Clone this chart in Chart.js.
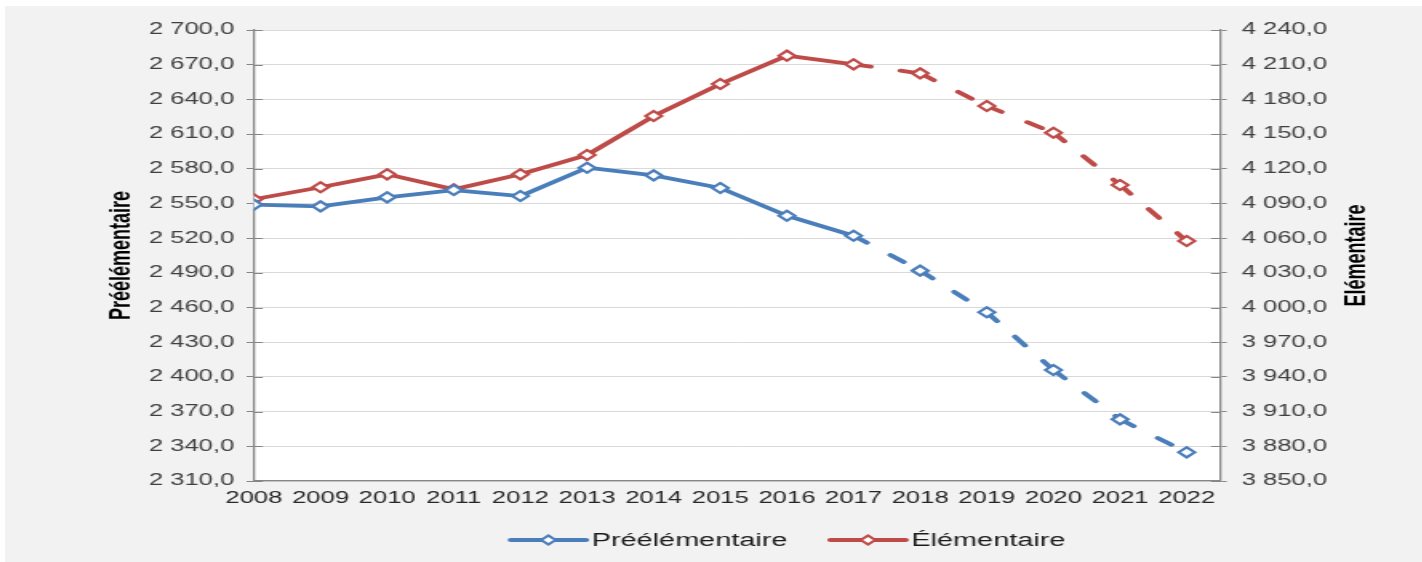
<!DOCTYPE html>
<html lang="fr">
<head>
<meta charset="utf-8">
<title>Effectifs préélémentaire et élémentaire</title>
<script src="https://cdn.jsdelivr.net/npm/chart.js@4.4.1/dist/chart.umd.min.js"></script>
<style>
  html, body { margin:0; padding:0; background:#ffffff; }
  body { width:1422px; height:562px; position:relative; overflow:hidden; }
  #panel { position:absolute; left:5px; top:6px; width:1417px; height:556px; background:#f2f2f2; overflow:hidden; }
  /* the original picture is stretched sideways, so the chart is too */
  #stretch { width:886px; height:556px; transform:scaleX(1.6); transform-origin:0 0; }
</style>
</head>
<body>
<div id="panel">
  <div id="stretch">
    <canvas id="enrolChart"></canvas>
  </div>
</div>

<script>
/* =====================================================
   DONNÉES
===================================================== */

const years = [
  2008,2009,2010,2011,2012,
  2013,2014,2015,2016,2017,
  2018,2019,2020,2021,2022
];

// Préélémentaire (axe de gauche)
const preElementary = [
  2549.0,2547.5,2555.3,2561.6,2556.4,
  2580.9,2574.3,2563.4,2539.4,2522.1,
  2491.9,2455.9,2406.0,2363.3,2334.8
];

// Élémentaire (axe de droite)
const elementary = [
  4093.6,4104.0,4115.2,4102.2,4115.2,
  4131.9,4165.6,4193.3,4217.8,4210.3,
  4202.5,4174.3,4151.2,4106.0,4057.5
];

const seriesLabels = ["Préélémentaire", "Élémentaire"];
const axisTitles = ["Préélémentaire", "Elémentaire"];

const leftTicks = { min:2310, max:2700, step:30 };
const rightTicks = { min:3850, max:4240, step:30 };

// projection (tirets) à partir de 2017
const forecastFrom = years.indexOf(2017);


/* =====================================================
   STYLE
===================================================== */

const BLUE = "#4a7ebb";
const RED = "#be4b48";
const FONT = '"Liberation Sans", Arial, sans-serif';
const TICK_COLOR = "#404040";
const AXIS_COLOR = "#868686";
const GRID_COLOR = "#d9d9d9";

function fmt(value){
  const whole = String(Math.round(value)).replace(/\B(?=(\d{3})+(?!\d))/g, " ");
  return whole + ",0";
}

const dashed = {
  borderDash: c => c.p0DataIndex >= forecastFrom ? [11, 19] : undefined,
  // offset unique par segment : le motif repart de chaque point
  borderDashOffset: c => c.p0DataIndex >= forecastFrom ? c.p0DataIndex * 0.001 : undefined
};


/* =====================================================
   PLUGINS
===================================================== */

const plotBackground = {
  id:"plotBackground",
  beforeDraw(chart){
    const a = chart.chartArea;
    const ctx = chart.ctx;
    ctx.save();
    ctx.fillStyle = "#ffffff";
    ctx.fillRect(a.left, a.top, a.right - a.left, a.bottom - a.top);
    ctx.restore();
  }
};

// petites graduations qui traversent l'axe vers l'intérieur
const innerTicks = {
  id:"innerTicks",
  beforeDatasetsDraw(chart){
    const ctx = chart.ctx;
    const a = chart.chartArea;
    ctx.save();
    ctx.strokeStyle = AXIS_COLOR;
    ctx.lineWidth = 1;
    [["y", a.left, 5.6], ["y2", a.right, -5.6]].forEach(([id, x, len]) => {
      const scale = chart.scales[id];
      scale.ticks.forEach((t, i) => {
        const y = Math.round(scale.getPixelForTick(i)) + 0.5;
        ctx.beginPath();
        ctx.moveTo(x, y);
        ctx.lineTo(x + len, y);
        ctx.stroke();
      });
    });
    ctx.restore();
  }
};

function drawDiamond(ctx, x, y, r, color){
  ctx.beginPath();
  ctx.moveTo(x - r, y);
  ctx.lineTo(x, y - r);
  ctx.lineTo(x + r, y);
  ctx.lineTo(x, y + r);
  ctx.closePath();
  ctx.fillStyle = "#ffffff";
  ctx.fill();
  ctx.lineWidth = 2;
  ctx.strokeStyle = color;
  ctx.stroke();
}

const titlesAndLegend = {
  id:"titlesAndLegend",
  afterDraw(chart){
    const ctx = chart.ctx;
    const a = chart.chartArea;
    const midY = (a.top + a.bottom) / 2;

    ctx.save();

    // titres des axes, lus de bas en haut
    ctx.font = "bold 18px " + FONT;
    ctx.fillStyle = "#000000";
    ctx.textAlign = "center";
    ctx.textBaseline = "middle";
    [[73, axisTitles[0]], [845, axisTitles[1]]].forEach(([x, text]) => {
      ctx.save();
      ctx.translate(x, midY);
      ctx.rotate(-Math.PI / 2);
      ctx.fillText(text, 0, 0);
      ctx.restore();
    });

    // légende
    ctx.font = "18px " + FONT;
    ctx.textAlign = "left";
    const colors = [BLUE, RED];
    const lineLen = 47, textGap = 3.7, itemGap = 27;
    const widths = seriesLabels.map(l => ctx.measureText(l).width);
    const total = widths.reduce((s, w) => s + lineLen + textGap + w, 0) + itemGap;
    let x = 489.4 - total / 2;
    const y = 534;

    seriesLabels.forEach((label, i) => {
      ctx.beginPath();
      ctx.moveTo(x, y);
      ctx.lineTo(x + lineLen, y);
      ctx.lineWidth = 4;
      ctx.lineCap = "round";
      ctx.strokeStyle = colors[i];
      ctx.stroke();
      drawDiamond(ctx, x + lineLen / 2, y, 4.5, colors[i]);

      ctx.fillStyle = "#1a1a1a";
      ctx.fillText(label, x + lineLen + textGap, y + 1);
      x += lineLen + textGap + widths[i] + itemGap;
    });

    ctx.restore();
  }
};


/* =====================================================
   GRAPHIQUE
===================================================== */

function lineDataset(label, values, color, axis){
  return {
    label:label,
    data:years.map((yr, i) => ({ x:yr, y:values[i] })),
    yAxisID:axis,
    borderColor:color,
    borderWidth:3.8,
    borderCapStyle:"round",
    borderJoinStyle:"round",
    tension:0,
    pointStyle:"rectRot",
    pointRadius:5,
    pointBorderWidth:2.2,
    pointBackgroundColor:"#ffffff",
    pointBorderColor:color,
    segment:dashed
  };
}

function yAxis(range, position, width, padding, tickLen){
  return {
    type:"linear",
    position:position,
    min:range.min,
    max:range.max,
    afterFit:scale => { scale.width = width; },
    ticks:{
      stepSize:range.step,
      padding:padding,
      color:TICK_COLOR,
      font:{ family:FONT, size:16 },
      callback:v => fmt(v)
    },
    grid:{
      display:true,
      drawOnChartArea:position === "left",
      color:GRID_COLOR,
      tickColor:AXIS_COLOR,
      tickLength:tickLen
    },
    border:{ display:true, color:AXIS_COLOR, width:1.3 }
  };
}

const ctx = document.getElementById("enrolChart").getContext("2d");

new Chart(ctx, {
  type:"line",
  data:{
    datasets:[
      lineDataset(seriesLabels[0], preElementary, BLUE, "y"),
      lineDataset(seriesLabels[1], elementary, RED, "y2")
    ]
  },
  options:{
    responsive:true,
    maintainAspectRatio:false,
    animation:false,
    layout:{ padding:{ top:24, left:0, right:0, bottom:0 } },
    plugins:{
      legend:{ display:false },
      tooltip:{ enabled:false }
    },
    scales:{
      x:{
        type:"linear",
        min:years[0],
        max:years[years.length - 1] + 0.5,
        afterFit:scale => { scale.height = 81; },
        afterBuildTicks:scale => {
          scale.ticks = years.map(v => ({ value:v }));
        },
        ticks:{
          autoSkip:false,
          maxRotation:0,
          padding:8,
          color:"#262626",
          font:{ family:FONT, size:16 },
          callback:v => String(v)
        },
        grid:{ display:false, drawTicks:false },
        border:{ display:true, color:AXIS_COLOR, width:1.3 }
      },
      y:yAxis(leftTicks, "left", 155.6, 7.7, 4.6),
      y2:yAxis(rightTicks, "right", 126.6, 9.3, 4.2)
    }
  },
  plugins:[plotBackground, innerTicks, titlesAndLegend]
});
</script>
</body>
</html>
